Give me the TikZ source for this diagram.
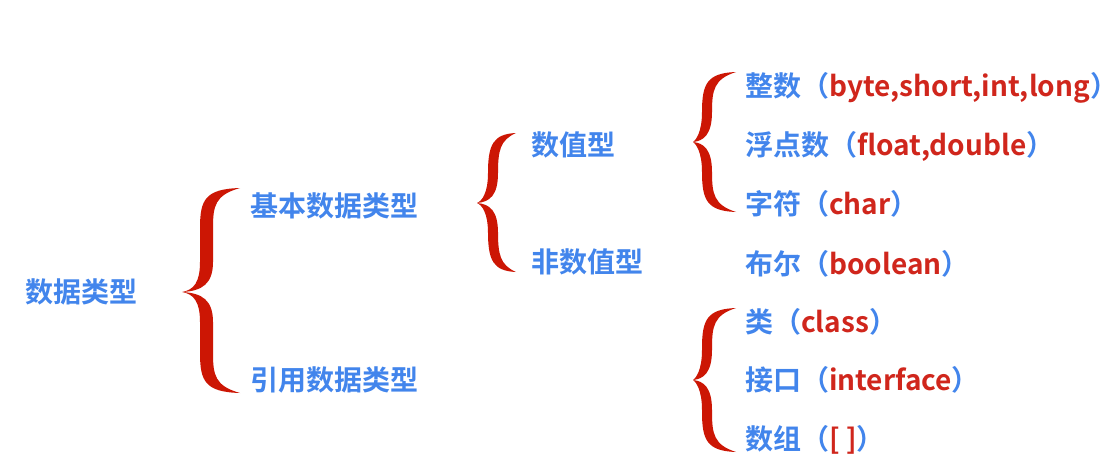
\documentclass[tikz,border=0pt]{standalone}
\usepackage{fontspec}
\setmainfont{Noto Sans CJK SC}[BoldFont={Noto Sans CJK SC Bold}]
\newfontfamily\cjkb{Noto Sans CJK SC Bold}
\definecolor{tblue}{RGB}{66,133,236}
\definecolor{tred}{RGB}{208,38,28}
\definecolor{bred}{RGB}{204,22,4}
\newcommand\bracefill[7]{% L S R T M B W
  \fill[bred] (#3,#4) .. controls ({#2+5},{#4+1}) and (#2,{#4+12}) .. (#2,{#4+40})
   -- (#2,{#5-30}) .. controls (#2,{#5-10}) and ({#2-6},{#5-2}) .. (#1,#5)
   .. controls ({#2-6},{#5+2}) and (#2,{#5+10}) .. (#2,{#5+30})
   -- (#2,{#6-40}) .. controls (#2,{#6-12}) and ({#2+5},{#6-1}) .. (#3,#6)
   .. controls ({#2+#7+2},{#6-7}) and ({#2+#7},{#6-18}) .. ({#2+#7},{#6-40})
   -- ({#2+#7},{#5+30}) .. controls ({#2+#7},{#5+8}) and ({#2+2},{#5+1}) .. (#1,#5)
   .. controls ({#2+2},{#5-1}) and ({#2+#7},{#5-8}) .. ({#2+#7},{#5-30})
   -- ({#2+#7},{#4+40}) .. controls ({#2+#7},{#4+18}) and ({#2+#7+2},{#4+7}) .. (#3,#4) -- cycle;}
\tikzset{
  lbl/.style={anchor=west,inner sep=0pt,yshift=-6pt,font=\cjkb\fontsize{28}{30}\selectfont,text=tblue,text height=0.8em,text depth=0.2em},
}
\newcommand\rd[1]{\textcolor{tred}{#1}}
\newcommand\cpar{\makebox[0.5em][l]{）}}
\begin{document}
\begin{tikzpicture}[x=1pt,y=-1pt]
\useasboundingbox[fill=white] (0,0) rectangle (1114,463);
\node[lbl] (root) at (25,293) {数据类型};
\node[lbl] (basic) at (250,207) {基本数据类型};
\node[lbl] (ref) at (250,381) {引用数据类型};
\node[lbl] (num) at (531,146) {数值型};
\node[lbl] (nonnum) at (531,263) {非数值型};
\node[lbl] (int) at (745,87) {整数（\rd{byte,short,int,long}\cpar};
\node[lbl] (float) at (745,146) {浮点数（\rd{float,double}\cpar};
\node[lbl] (char) at (745,205) {字符（\rd{char}\cpar};
\node[lbl] (bool) at (745,265) {布尔（\rd{boolean}\cpar};
\node[lbl] (class) at (745,323) {类（\rd{class}\cpar};
\node[lbl] (iface) at (745,381) {接口（\rd{interface}\cpar};
\node[lbl] (arr) at (745,440) {数组（\rd{[ ]}\cpar};
\bracefill{182}{200}{240}{188}{292}{393}{13}
\bracefill{477}{488}{516}{133}{203}{272}{10}
\bracefill{693}{702}{736}{72}{142}{212}{10}
\bracefill{693}{702}{736}{308}{380}{452}{10}
\end{tikzpicture}
\end{document}
